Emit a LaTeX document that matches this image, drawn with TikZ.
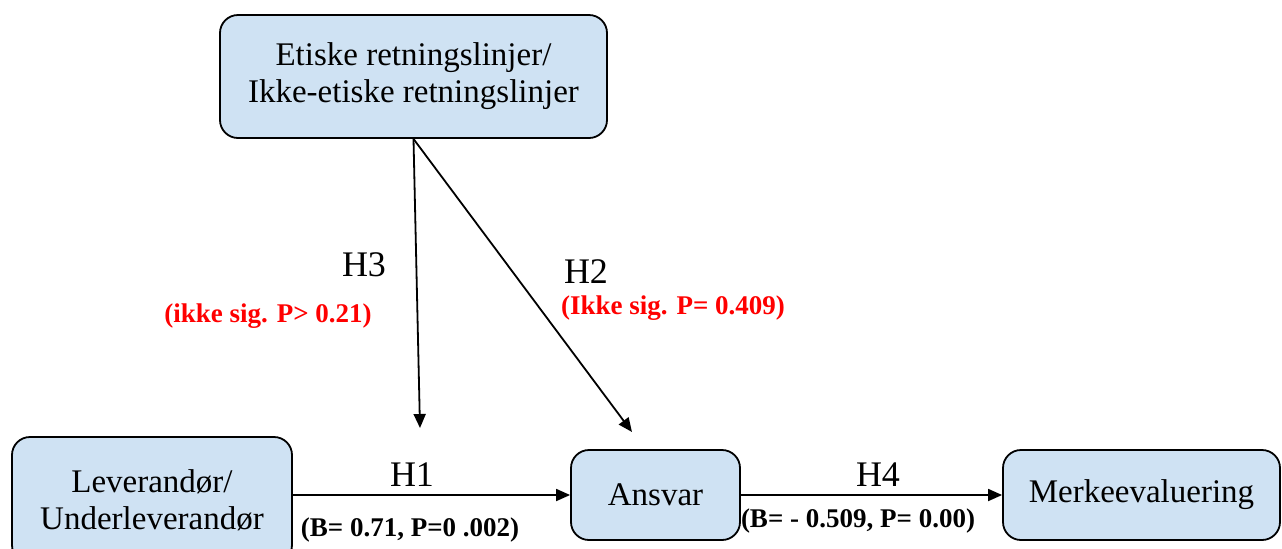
\documentclass[tikz,border=0pt]{standalone}
\usepackage{fontspec}
\setmainfont{Liberation Serif}
\usetikzlibrary{arrows.meta}
\definecolor{boxblue}{RGB}{207,226,243}

\begin{document}
\begin{tikzpicture}[x=0.5pt,y=-0.5pt]

\tikzset{
  BoxStyle/.style = { rectangle, rounded corners=9pt, draw, line width=0.9pt,
                      fill=boxblue, align=center, inner sep=0pt,
                      font = \fontsize{16.5}{18.5}\selectfont },
  HypStyle/.style = { font = \fontsize{18}{20}\selectfont },
  StatStyle/.style = { font = \fontsize{13.5}{15}\selectfont\bfseries },
  EdgeStyle/.style = { line width=0.9pt, -{Triangle[length=7pt,width=6pt]} } }

  \useasboundingbox (0,0) rectangle (1282,548);
  \clip (0,0) rectangle (1282,548);

  \node[BoxStyle, minimum width=193.5pt, minimum height=61.5pt] (etikk) at (413.5,76.5)
       {Etiske retningslinjer/\\Ikke-etiske retningslinjer};
  \node[BoxStyle, minimum width=140pt, minimum height=63pt] (lev) at (152,500)
       {Leverandør/\\Underleverandør};
  \node[BoxStyle, minimum width=84.5pt, minimum height=45pt] (ans) at (655.5,495) {Ansvar};
  \node[BoxStyle, minimum width=138.5pt, minimum height=45pt] (mer) at (1141.5,495) {Merkeevaluering};

  \coordinate (h3end) at (420,428);
  \coordinate (h2end) at (632,432);

  \draw[EdgeStyle] (etikk.south) -- (h3end);
  \draw[EdgeStyle] (etikk.south) -- (h2end);
  \draw[EdgeStyle] (lev.east |- ans.west) -- (ans.west);
  \draw[EdgeStyle] (ans.east) -- (mer.west);

  \node[HypStyle] (h3) at (364,265) {H3};
  \node[StatStyle, text=red] (h3stat) at (268,316) {(ikke sig. P> 0.21)};
  \node[HypStyle] (h2) at (586,272) {H2};
  \node[StatStyle, text=red] (h2stat) at (673,308) {(Ikke sig. P= 0.409)};
  \node[HypStyle] (h1) at (412,475) {H1};
  \node[StatStyle] (h1stat) at (410,530) {(B= 0.71, P=0 .002)};
  \node[HypStyle] (h4) at (878,475) {H4};
  \node[StatStyle] (h4stat) at (858,521) {(B= - 0.509, P= 0.00)};

\end{tikzpicture}
\end{document}
